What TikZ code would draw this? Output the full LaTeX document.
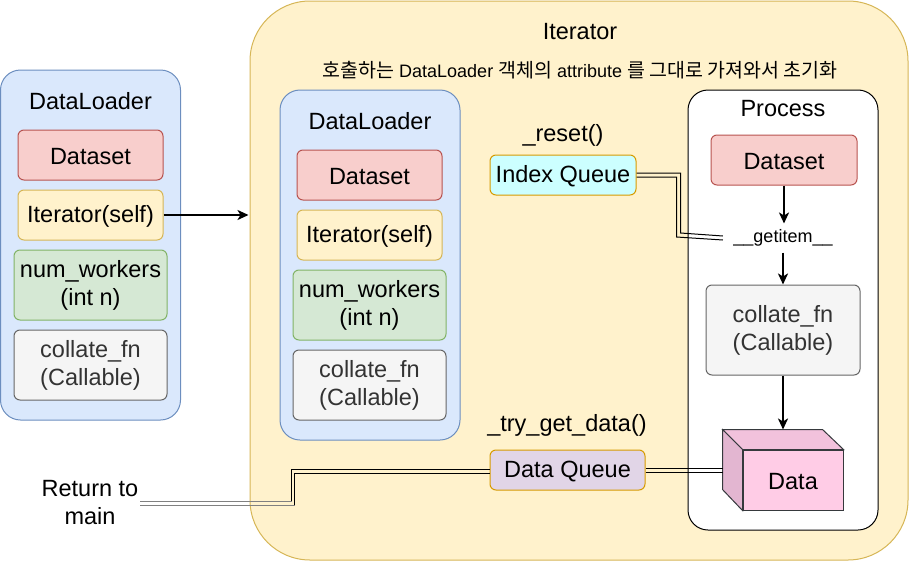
\documentclass[tikz,border=0pt]{standalone}
\usepackage{fontspec}
\setmainfont{Liberation Sans}
\newfontfamily\cjk{Noto Sans CJK KR}
\usetikzlibrary{arrows.meta,calc}
\definecolor{dlfill}{HTML}{DAE8FC}
\definecolor{dlline}{HTML}{6C8EBF}
\definecolor{dsfill}{HTML}{F8CECC}
\definecolor{dsline}{HTML}{B85450}
\definecolor{itfill}{HTML}{FFF2CC}
\definecolor{itline}{HTML}{D6B656}
\definecolor{nwfill}{HTML}{D5E8D4}
\definecolor{nwline}{HTML}{82B366}
\definecolor{cffill}{HTML}{F5F5F5}
\definecolor{cfline}{HTML}{666666}
\definecolor{cftext}{HTML}{333333}
\definecolor{iqfill}{HTML}{CCFFFF}
\definecolor{qline}{HTML}{D79B00}
\definecolor{dqfill}{HTML}{E1D5E7}
\definecolor{cubefront}{HTML}{FFCCE6}
\definecolor{cubetop}{HTML}{F2C2DC}
\definecolor{cubeleft}{HTML}{E3B6D1}
\definecolor{cubeline}{HTML}{36393D}
\definecolor{linkgray}{HTML}{808080}
\newcommand\latw[1]{{\rmfamily\fontsize{18}{20}\selectfont #1}}
\begin{document}
\begin{tikzpicture}[x=1pt,y=-1pt,line width=1pt,
  font=\fontsize{23.5}{28}\selectfont,
  lowtext/.style={execute at begin node={\rule{0pt}{19.5pt}}},
  hightop/.style={execute at begin node={\rule{0pt}{21.5pt}}},
  rbox/.style={draw,rounded corners=6pt,inner sep=0pt,align=center,lowtext},
  container/.style={draw=dlline,fill=dlfill,rounded corners=20pt,inner sep=0pt,minimum width=180pt,minimum height=350pt},
  dsbox/.style={rbox,draw=dsline,fill=dsfill,minimum width=145pt,minimum height=50pt},
  itbox/.style={rbox,draw=itline,fill=itfill,minimum width=145pt,minimum height=50pt},
  nwbox/.style={rbox,draw=nwline,fill=nwfill,minimum width=153pt,minimum height=70pt,hightop},
  cfbox/.style={rbox,draw=cfline,fill=cffill,text=cftext,minimum width=153pt,minimum height=70pt,hightop},
  qbox/.style={rbox,draw=qline,minimum height=40pt},
  lbl/.style={inner sep=0pt,align=center},
  arr/.style={line width=2pt,-{Stealth[length=11pt,width=10pt,inset=3pt]}},
  link/.style={line width=1pt,black}]
\useasboundingbox (0,0) rectangle (910,562);
% left DataLoader
\node[container] (ldl) at (90.5,245) {};
\node[lbl] (ldlt) at (90.5,101) {DataLoader};
\node[dsbox] (lds) at (90.5,155) {Dataset};
\node[itbox] (lit) at (90.5,215) {Iterator(self)};
\node[nwbox] (lnw) at (90.5,285) {num\_workers\\(int n)};
\node[cfbox] (lcf) at (90.5,365) {collate\_fn\\(Callable)};
% Iterator
\node[draw=itline,fill=itfill,rounded corners=60pt,inner sep=0pt,minimum width=658pt,minimum height=559pt] (iter) at (579,280.5) {};
\node[lbl] (itert) at (580,32) {Iterator};
\node[lbl,font=\cjk\fontsize{19.5}{22}\selectfont] (note) at (580,70) {호출하는\latw{ DataLoader }객체의\latw{ attribute }를 그대로 가져와서 초기화};
\draw[arr] (lit.east) -- ($(iter.west |- lit.east)+(-1,0)$);
% inner DataLoader
\node[container] (idl) at (370,265) {};
\node[lbl] (idlt) at (370,121) {DataLoader};
\node[dsbox] (ids) at (369.5,175) {Dataset};
\node[itbox] (iit) at (369.5,235) {Iterator(self)};
\node[nwbox] (inw) at (369.5,305) {num\_workers\\(int n)};
\node[cfbox] (icf) at (369.5,385) {collate\_fn\\(Callable)};
% queues
\node[lbl] (reset) at (563,135) {\_reset()};
\node[qbox,fill=iqfill,minimum width=146pt] (iq) at (563,175) {Index Queue};
\node[lbl] (tgd) at (567,425) {\_try\_get\_data()};
\node[qbox,fill=dqfill,minimum width=155pt] (dq) at (567.5,470) {Data Queue};
% Process
\node[draw,fill=white,rounded corners=20pt,inner sep=0pt,minimum width=190pt,minimum height=440pt] (proc) at (783,310) {};
\node[lbl] (proct) at (783,109) {Process};
\node[dsbox,minimum width=146pt] (pds) at (784,160) {Dataset};
\node[lbl,font=\fontsize{18}{20}\selectfont,minimum height=28pt] (gi) at (783,238) {\_\_getitem\_\_};
\node[cfbox,minimum width=154pt,minimum height=90pt] (pcf) at (783,330) {collate\_fn\\(Callable)};
% cube
\node[draw=cubeline,fill=cubefront,inner sep=0pt,minimum width=100pt,minimum height=60pt,lowtext] (cube) at (793,480) {Data};
\draw[draw=cubeline,fill=cubetop] (cube.north west) -- ++(-20,-20) -- ++(100,0) -- (cube.north east) -- cycle;
\draw[draw=cubeline,fill=cubeleft] (cube.north west) -- ++(-20,-20) -- ++(0,60) -- (cube.south west) -- cycle;
\coordinate (ctop) at ($(cube.north)+(-10,-20)$);
\coordinate (cleft) at ($(cube.west)+(-20,-10)$);
% arrows in process
\draw[arr] (pds.south) -- (gi.north -| pds.south);
\draw[arr] (gi.south) -- (gi.south |- pcf.north);
\draw[arr] (pcf.south) -- (ctop);
% links
\coordinate (gil) at ($(gi.west)+(-10,0)$);
\draw[link] ($(iq.east)+(0,-2)$) -| ($(iq.east)+(44,58)$) -- ($(gil)+(0,-2)$);
\draw[link] ($(iq.east)+(0,2)$) -| ($(iq.east)+(40,62)$) -- ($(gil)+(0,2)$);
\draw[link] ($(dq.east)+(0,-2)$) -- ($(cleft)+(0,-2)$);
\draw[link] ($(dq.east)+(0,2)$) -- ($(cleft)+(0,2)$);
\node[lbl] (ret) at (90,503) {Return to\\main};
\coordinate (retr) at (140,503);
\draw[link] ($(dq.west)+(0,-1)$) -| ($(retr)+(151,-2)$);
\draw[link] ($(dq.west)+(0,3)$) -| ($(retr)+(154,2)$);
\draw[link,linkgray] ($(retr)+(151.5,-2)$) -- ($(retr)+(0,-2)$);
\draw[link,linkgray] ($(retr)+(154.5,2)$) -- ($(retr)+(0,2)$);
\end{tikzpicture}
\end{document}
